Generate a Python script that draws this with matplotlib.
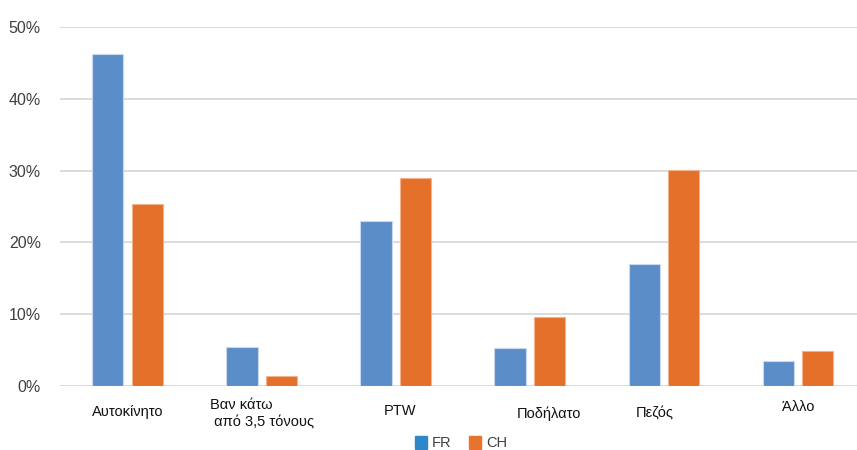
import numpy as np
import matplotlib.pyplot as plt
from matplotlib.ticker import FuncFormatter

plt.rcParams['font.family'] = ['Liberation Sans', 'DejaVu Sans']

categories = ['Αυτοκίνητο', 'Βαν κάτω\n από 3,5 τόνους', 'PTW',
              'Ποδήλατο', 'Πεζός', 'Άλλο']
fr = [46.3, 5.4, 22.9, 5.2, 17.0, 3.5]
ch = [25.4, 1.3, 28.9, 9.6, 30.1, 4.8]

cols = {'fr': '#5B8DC9', 'ch': '#E5702A',
        'fr_leg': '#2F86C9', 'ch_leg': '#E8732C'}

# label nudges (x in category units, y in points)
lab_dx = [0.0, 0.0, 0.03, 0.14, -0.07, 0.0]
lab_dy = [-14, -9, -13, -15, -15, -10]

x = np.arange(len(categories))
w = 0.233
off = 0.147

fig = plt.figure(figsize=(8.57, 4.5), dpi=100)
# plot area runs a little past the right edge
ax = fig.add_axes([0.0705, 0.143, 0.939, 0.7965])

ax.bar(x - off, fr, w, color=cols['fr'], edgecolor='#C9D8EE', lw=0.8, zorder=3)
ax.bar(x + off, ch, w, color=cols['ch'], edgecolor='#F2B48E', lw=0.8, zorder=3)

ax.set_xlim(-0.5, len(categories) - 0.5)
ax.set_ylim(0, 50)
ax.set_yticks(np.arange(0, 51, 10))
ax.yaxis.set_major_formatter(FuncFormatter(lambda v, p: f'{v:.0f}%'))
ax.tick_params(axis='y', length=0, pad=14, labelsize=11.5, labelcolor='#404040')
ax.set_xticks([])
ax.grid(axis='y', color='#D9D9D9', lw=1.3, zorder=0)
for s in ax.spines.values():
    s.set_visible(False)

for i, lab in enumerate(categories):
    ax.annotate(lab, (x[i] + lab_dx[i], 0), xytext=(0, lab_dy[i]),
                textcoords='offset points', ha='center', va='top',
                multialignment='left', fontsize=10.5, color='#111111',
                linespacing=1.3)

# legend drawn by hand at the bottom
for xs, name, c in [(415, 'FR', cols['fr_leg']), (469, 'CH', cols['ch_leg'])]:
    fig.patches.append(plt.Rectangle((xs / 857, 1 - 449 / 450), 12 / 857, 13 / 450,
                                     transform=fig.transFigure, color=c))
    fig.text((xs + 17) / 857, 1 - 443 / 450, name, fontsize=10.5,
             color='#404040', va='center', ha='left')

fig.savefig('out.png', dpi=100)
